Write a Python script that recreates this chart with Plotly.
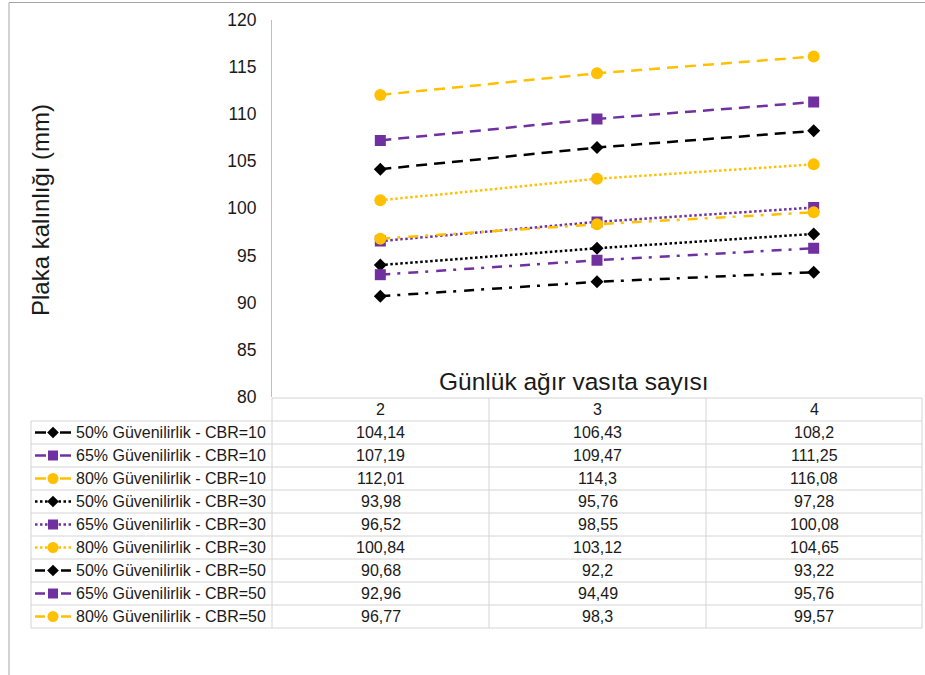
import plotly.graph_objects as go

# ---- data -------------------------------------------------------------
categories = [2, 3, 4]  # günlük ağır vasıta sayısı

g50_cbr10 = [104.14, 106.43, 108.2]
g65_cbr10 = [107.19, 109.47, 111.25]
g80_cbr10 = [112.01, 114.3, 116.08]
g50_cbr30 = [93.98, 95.76, 97.28]
g65_cbr30 = [96.52, 98.55, 100.08]
g80_cbr30 = [100.84, 103.12, 104.65]
g50_cbr50 = [90.68, 92.2, 93.22]
g65_cbr50 = [92.96, 94.49, 95.76]
g80_cbr50 = [96.77, 98.3, 99.57]

series_names = [
    "50% Güvenilirlik - CBR=10",
    "65% Güvenilirlik - CBR=10",
    "80% Güvenilirlik - CBR=10",
    "50% Güvenilirlik - CBR=30",
    "65% Güvenilirlik - CBR=30",
    "80% Güvenilirlik - CBR=30",
    "50% Güvenilirlik - CBR=50",
    "65% Güvenilirlik - CBR=50",
    "80% Güvenilirlik - CBR=50",
]
series_values = [g50_cbr10, g65_cbr10, g80_cbr10,
                 g50_cbr30, g65_cbr30, g80_cbr30,
                 g50_cbr50, g65_cbr50, g80_cbr50]

y_ticks = [80, 85, 90, 95, 100, 105, 110, 115, 120]

# ---- styling ----------------------------------------------------------
W, H = 925, 675
FONT = "Liberation Sans, Arial, sans-serif"
BLACK, PURPLE, AMBER = "#000000", "#7030A0", "#FFC000"
colors = [BLACK, PURPLE, AMBER] * 3
symbols = ["diamond", "square", "circle"] * 3
msizes = [10, 11, 12] * 3
dash_cbr = {10: "11px,7px", 30: "2.5px,2.5px", 50: "10px,7px,3px,8px"}
dashes = [dash_cbr[10]] * 3 + [dash_cbr[30]] * 3 + [dash_cbr[50]] * 3
LW = 2.5

# pixel geometry of the plot area and data table
PL, PR, PT, PB = 272, 922, 19.5, 397
COLS = [272, 489, 706, 922]
TBL_LEFT = 31
HDR_TOP, ROW0, ROW_H = 398, 421, 23
KEY_L, KEY_M, KEY_R = 35, 53, 71
TEXT_X = 75
GRID = "#d4d4d4"

fig = go.Figure()

for name, vals, c, s, ms, d in zip(series_names, series_values, colors,
                                   symbols, msizes, dashes):
    fig.add_trace(go.Scatter(
        x=categories, y=vals, name=name, mode="lines+markers",
        line=dict(color=c, width=LW, dash=d),
        marker=dict(color=c, symbol=s, size=ms, line=dict(width=0)),
        showlegend=False, xaxis="x", yaxis="y"))

# legend keys inside the data table (full-page pixel axes x2/y2)
for i, (c, s, ms, d) in enumerate(zip(colors, symbols, msizes, dashes)):
    yc = ROW0 + ROW_H * (i + 0.5)
    for xs in ([KEY_L, KEY_M], [KEY_R, KEY_M]):
        fig.add_trace(go.Scatter(
            x=xs, y=[yc, yc], mode="lines", hoverinfo="skip",
            line=dict(color=c, width=LW, dash=d),
            showlegend=False, xaxis="x2", yaxis="y2"))
    fig.add_trace(go.Scatter(
        x=[KEY_M], y=[yc], mode="markers", hoverinfo="skip",
        marker=dict(color=c, symbol=s, size=ms - 1, line=dict(width=0)),
        showlegend=False, xaxis="x2", yaxis="y2"))


def px_x(x):
    return x / W


def px_y(y):
    return 1 - y / H


shapes = []


def hline(y, x0, x1, color=GRID):
    shapes.append(dict(type="line", xref="x2", yref="y2", x0=x0, x1=x1,
                       y0=y, y1=y, line=dict(color=color, width=1)))


def vline(x, y0, y1, color=GRID):
    shapes.append(dict(type="line", xref="x2", yref="y2", x0=x, x1=x,
                       y0=y0, y1=y1, line=dict(color=color, width=1)))


n_rows = len(series_names)
TBL_BOT = ROW0 + ROW_H * n_rows

# outer chart frame
hline(2.5, 9, W, "#a6a6a6")
vline(9, 2.5, H, "#a6a6a6")

# data table grid
hline(HDR_TOP, PL, PR)
for r in range(n_rows + 1):
    hline(ROW0 + ROW_H * r, TBL_LEFT, PR)
vline(TBL_LEFT, ROW0, TBL_BOT)
for cx in COLS:
    vline(cx, HDR_TOP, TBL_BOT)

annotations = []
TF = dict(family=FONT, size=16, color="#1a1a1a")

# header row: category labels
for j, cat in enumerate(categories):
    annotations.append(dict(
        x=(COLS[j] + COLS[j + 1]) / 2, y=(HDR_TOP + ROW0) / 2,
        xref="x2", yref="y2", text=str(cat), showarrow=False, font=TF))

# table body: series names and values (decimal comma)
for i, (name, vals) in enumerate(zip(series_names, series_values)):
    yc = ROW0 + ROW_H * (i + 0.5)
    annotations.append(dict(
        x=TEXT_X - 1, y=yc, xref="x2", yref="y2", text=name,
        showarrow=False, xanchor="left", font=TF))
    for j, v in enumerate(vals):
        annotations.append(dict(
            x=(COLS[j] + COLS[j + 1]) / 2, y=yc, xref="x2", yref="y2",
            text=f"{v:g}".replace(".", ","), showarrow=False, font=TF))

# axis titles
annotations.append(dict(
    x=574, y=381, xref="x2", yref="y2",
    text="Günlük ağır vasıta sayısı", showarrow=False,
    font=dict(family=FONT, size=24.5, color="#1a1a1a")))
annotations.append(dict(
    x=40, y=210, xref="x2", yref="y2", text="Plaka kalınlığı (mm)",
    textangle=-90, showarrow=False,
    font=dict(family=FONT, size=24, color="#1a1a1a")))

fig.update_layout(
    width=W, height=H, margin=dict(l=0, r=0, t=0, b=0, autoexpand=False),
    paper_bgcolor="white", plot_bgcolor="rgba(0,0,0,0)",
    showlegend=False, shapes=shapes, annotations=annotations,
    xaxis=dict(domain=[px_x(PL), px_x(PR)], range=[1.5, 4.5],
               showgrid=False, zeroline=False, showticklabels=False,
               showline=False, fixedrange=True, automargin=False),
    yaxis=dict(domain=[px_y(PB), px_y(PT)], range=[80, 120],
               tickvals=y_ticks, showgrid=False, zeroline=False,
               showline=True, linecolor="#bfbfbf", linewidth=1,
               ticks="", ticklabelstandoff=11, automargin=False,
               tickfont=dict(family=FONT, size=17.5, color="#1a1a1a")),
    xaxis2=dict(domain=[0, 1], range=[0, W], anchor="y2",
                visible=False, fixedrange=True, automargin=False),
    yaxis2=dict(domain=[0, 1], range=[H, 0], anchor="x2",
                visible=False, fixedrange=True, automargin=False),
)

fig.write_html("out.html")
